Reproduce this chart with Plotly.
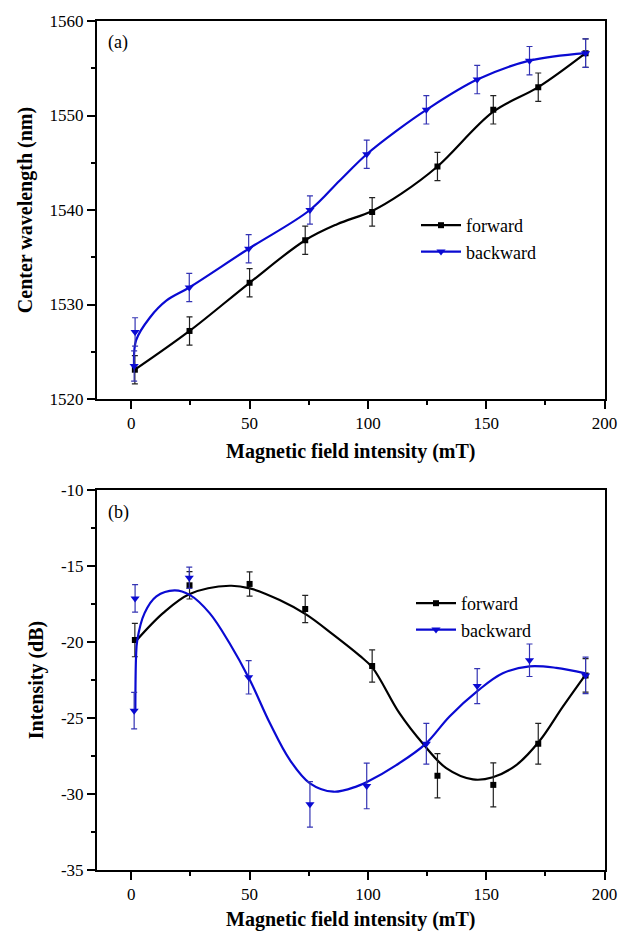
#!/usr/bin/env python3

import plotly.graph_objects as go
from plotly.subplots import make_subplots

# ---- (a) center wavelength, measured points ----
fwd_x = [1.5, 24.6, 50, 73.5, 101.8, 129.4, 153, 172, 192]
fwd_wl = [1523.1, 1527.2, 1532.3, 1536.8, 1539.8, 1544.6, 1550.6, 1553.0, 1556.6]
fwd_wl_err = [1.5, 1.5, 1.5, 1.5, 1.5, 1.5, 1.5, 1.5, 1.5]

bwd_x = [1.2, 1.6, 24.5, 49.6, 75.5, 99.5, 124.7, 146.2, 168.3, 192]
bwd_wl = [1523.5, 1527.1, 1531.8, 1535.9, 1540.0, 1545.9, 1550.6, 1553.8, 1555.8, 1556.6]
bwd_wl_err = [1.6, 1.5, 1.5, 1.5, 1.5, 1.5, 1.5, 1.5, 1.5, 1.5]

# ---- (a) smoothed curves ----
fwd_wl_fit_x = [1.5, 24.6, 50, 73.5, 87, 101.8, 114, 129.4, 153, 172, 192]
fwd_wl_fit = [1523.1, 1527.2, 1532.3, 1536.8, 1538.5, 1539.9, 1541.7, 1544.6, 1550.4, 1553.0, 1556.6]
bwd_wl_fit_x = [1.2, 2.0, 7.8, 14.8, 24.5, 49.6, 75.5, 88, 99.5, 112.2, 124.7, 146.2, 168.3, 192]
bwd_wl_fit = [1523.2, 1526.2, 1528.6, 1530.4, 1531.8, 1535.9, 1540.0, 1543.1, 1545.9, 1548.4, 1550.6, 1553.8, 1555.8, 1556.6]

# ---- (b) intensity, measured points ----
fwd_db = [-19.87, -16.27, -16.18, -17.83, -21.58, -28.8, -29.4, -26.7, -22.2]
fwd_db_err = [1.1, 0.9, 0.8, 0.9, 1.06, 1.45, 1.45, 1.34, 1.1]
bwd_db = [-24.52, -17.13, -15.77, -22.32, -30.68, -29.47, -26.7, -22.9, -21.2, -22.2]
bwd_db_err = [1.2, 0.9, 0.7, 1.1, 1.5, 1.5, 1.34, 1.15, 1.07, 1.2]

# ---- (b) smoothed curves ----
fwd_db_fit_x = [1.7, 13.4, 24.7, 41.6, 50.1, 62.7, 74, 85.2, 96.5, 102, 113.4, 123.3,
                133.1, 144.4, 152.8, 162.7, 172.6, 182.4, 192.4]
fwd_db_fit = [-19.98, -18.1, -16.84, -16.3, -16.47, -17.24, -18.2, -19.5, -20.9, -21.7, -24.7, -26.7,
              -28.3, -29.04, -28.9, -28.1, -26.5, -24.25, -22.06]
bwd_db_fit_x = [1.7, 2.0, 2.5, 5.6, 10.6, 18.3, 24.7, 33.1, 41.6, 50.1, 58.6, 67, 75.5, 85.4,
                95.3, 99.8, 112, 124.4, 134.5, 146.5, 157, 168.3, 179.6, 192]
bwd_db_fit = [-24.5, -21.0, -19.9, -18.1, -17.0, -16.6, -16.9, -18.1, -20.1, -22.5, -25.35, -27.76, -29.3, -29.85,
              -29.5, -29.2, -28.1, -26.7, -24.9, -23.2, -22.06, -21.6, -21.7, -22.06]

# tick labels (plain hyphen minus, as in the original)
x_ticks = [0, 50, 100, 150, 200]
wl_ticks = [1520, 1530, 1540, 1550, 1560]
db_ticks = [-35, -30, -25, -20, -15, -10]

FONT = "Liberation Serif"
BLACK = "#000000"
BLUE = "#0a0ad2"
BLUE_ERR = "#3434b4"

W, H = 622, 931


def add_series(fig, row, x, y, err, fit_x, fit_y, name, color, err_color, symbol, size, legend):
    # smoothed curve
    fig.add_trace(go.Scatter(x=fit_x, y=fit_y, mode="lines", line=dict(color=color, width=2.2, shape="spline"),
                             showlegend=False, hoverinfo="skip"), row=row, col=1)
    # measured points with error bars
    fig.add_trace(go.Scatter(x=x, y=y, mode="markers", showlegend=False,
                             marker=dict(symbol=symbol, size=size, color=color),
                             error_y=dict(type="data", array=err, color=err_color, thickness=1.2, width=3)),
                  row=row, col=1)
    # legend entry
    fig.add_trace(go.Scatter(x=[None], y=[None], mode="lines+markers", name=name, legend=legend,
                             line=dict(color=color, width=2.2),
                             marker=dict(symbol=symbol, size=size, color=color)), row=row, col=1)


def main():
    fig = make_subplots(rows=2, cols=1)

    add_series(fig, 1, fwd_x, fwd_wl, fwd_wl_err, fwd_wl_fit_x, fwd_wl_fit,
               "forward", BLACK, "#222222", "square", 6, "legend")
    add_series(fig, 1, bwd_x, bwd_wl, bwd_wl_err, bwd_wl_fit_x, bwd_wl_fit,
               "backward", BLUE, BLUE_ERR, "triangle-down", 8, "legend")
    add_series(fig, 2, fwd_x, fwd_db, fwd_db_err, fwd_db_fit_x, fwd_db_fit,
               "forward", BLACK, "#222222", "square", 6, "legend2")
    add_series(fig, 2, bwd_x, bwd_db, bwd_db_err, bwd_db_fit_x, bwd_db_fit,
               "backward", BLUE, BLUE_ERR, "triangle-down", 8, "legend2")

    axis_style = dict(showline=True, linecolor="black", linewidth=2, mirror=True, ticks="outside",
                      ticklen=8, tickwidth=2, tickcolor="black", showgrid=False, zeroline=False,
                      automargin=False, tickfont=dict(family=FONT, size=17, color="black"))
    title_font = dict(family=FONT, size=20, color="black")

    # x axes
    for r, standoff in [(1, 12), (2, 9)]:
        fig.update_xaxes(range=[-14.5, 200], tickvals=x_ticks, ticktext=[str(v) for v in x_ticks],
                         minor=dict(dtick=25, tick0=0, ticks="outside", ticklen=4, tickwidth=2, tickcolor="black"),
                         title_text="<b>Magnetic field intensity (mT)</b>", title_font=title_font,
                         title_standoff=standoff, domain=[97 / W, 604.5 / W], row=r, col=1, **axis_style)

    # y axes
    fig.update_yaxes(range=[1520, 1560], tickvals=wl_ticks, ticktext=[str(v) for v in wl_ticks],
                     minor=dict(dtick=5, tick0=0, ticks="outside", ticklen=4, tickwidth=2, tickcolor="black"),
                     title_text="<b>Center wavelength (nm)</b>", title_font=title_font, title_standoff=12,
                     domain=[1 - 399 / H, 1 - 21 / H], row=1, col=1, **axis_style)
    fig.update_yaxes(range=[-35, -10], tickvals=db_ticks, ticktext=[str(v) for v in db_ticks],
                     minor=dict(dtick=2.5, tick0=0, ticks="outside", ticklen=4, tickwidth=2, tickcolor="black"),
                     title_text="<b>Intensity (dB)</b>", title_font=title_font, title_standoff=12,
                     domain=[1 - 870 / H, 1 - 490 / H], row=2, col=1, **axis_style)

    legend_style = dict(font=dict(family=FONT, size=18, color="black"), bgcolor="rgba(0,0,0,0)",
                        xanchor="left", yanchor="top", tracegroupgap=0, itemwidth=40)

    fig.update_layout(
        width=W, height=H,
        margin=dict(l=0, r=0, t=0, b=0),
        paper_bgcolor="white", plot_bgcolor="white",
        font=dict(family=FONT, color="black"),
        legend=dict(x=416 / W, y=1 - 207 / H, **legend_style),
        legend2=dict(x=411 / W, y=1 - 585 / H, **legend_style),
        annotations=[
            dict(text="(a)", x=106 / W, y=1 - 43 / H, xref="paper", yref="paper", showarrow=False,
                 xanchor="left", yanchor="middle", font=dict(family=FONT, size=18, color="black")),
            dict(text="(b)", x=106 / W, y=1 - 512 / H, xref="paper", yref="paper", showarrow=False,
                 xanchor="left", yanchor="middle", font=dict(family=FONT, size=18, color="black")),
        ],
    )

    # drop the default page margin so the figure fills the window exactly
    fig.write_html("out.html", config={"displayModeBar": False},
                   post_script="document.body.style.margin='0';document.body.style.overflow='hidden';")


if __name__ == '__main__':
    main()
